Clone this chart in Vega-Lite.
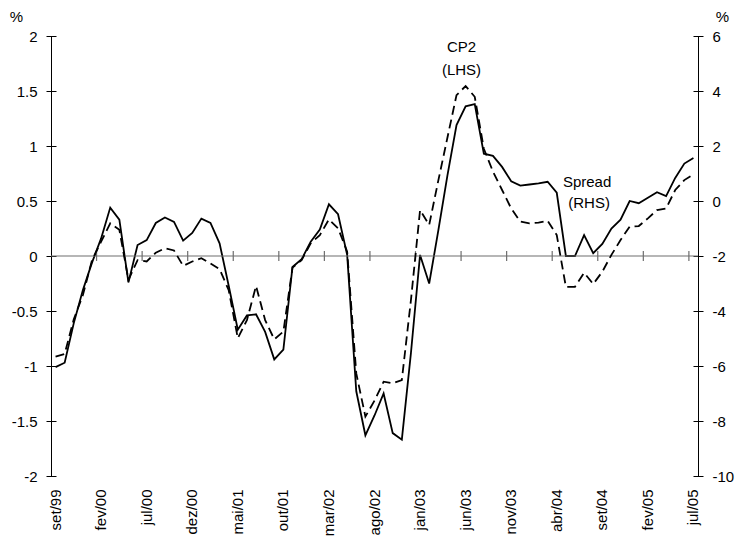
{
  "$schema": "https://vega.github.io/schema/vega-lite/v6.json",
  "width": 647,
  "height": 440,
  "autosize": {"type": "none"},
  "padding": {"left": 51, "top": 36, "right": 39, "bottom": 64},
  "config": {
    "font": "Liberation Sans",
    "view": {"stroke": null},
    "axis": {"labelFont": "Liberation Sans", "titleFont": "Liberation Sans", "labelColor": "#000", "titleColor": "#000", "domainColor": "#000", "tickColor": "#000", "grid": false, "labelFontSize": 15, "titleFontSize": 15, "titleFontWeight": "normal"}
  },
  "data": {"values": [
    {"month": "set/99", "cp2": -1.01, "spread": -5.66},
    {"month": "out/99", "cp2": -0.97, "spread": -5.56},
    {"month": "nov/99", "cp2": -0.61, "spread": -4.3},
    {"month": "dez/99", "cp2": -0.31, "spread": -3.42},
    {"month": "jan/00", "cp2": -0.06, "spread": -2.15},
    {"month": "fev/00", "cp2": 0.16, "spread": -1.48},
    {"month": "mar/00", "cp2": 0.44, "spread": -0.81},
    {"month": "abr/00", "cp2": 0.33, "spread": -1.05},
    {"month": "mai/00", "cp2": -0.24, "spread": -2.87},
    {"month": "jun/00", "cp2": 0.10, "spread": -2.15},
    {"month": "jul/00", "cp2": 0.145, "spread": -2.2},
    {"month": "ago/00", "cp2": 0.30, "spread": -1.88},
    {"month": "set/00", "cp2": 0.35, "spread": -1.72},
    {"month": "out/00", "cp2": 0.31, "spread": -1.8},
    {"month": "nov/00", "cp2": 0.14, "spread": -2.36},
    {"month": "dez/00", "cp2": 0.21, "spread": -2.2},
    {"month": "jan/01", "cp2": 0.34, "spread": -2.08},
    {"month": "fev/01", "cp2": 0.30, "spread": -2.27},
    {"month": "mar/01", "cp2": 0.115, "spread": -2.48},
    {"month": "abr/01", "cp2": -0.27, "spread": -3.24},
    {"month": "mai/01", "cp2": -0.67, "spread": -4.99},
    {"month": "jun/01", "cp2": -0.54, "spread": -4.33},
    {"month": "jul/01", "cp2": -0.53, "spread": -3.09},
    {"month": "ago/01", "cp2": -0.69, "spread": -4.33},
    {"month": "set/01", "cp2": -0.94, "spread": -5.03},
    {"month": "out/01", "cp2": -0.85, "spread": -4.75},
    {"month": "nov/01", "cp2": -0.10, "spread": -2.42},
    {"month": "dez/01", "cp2": -0.03, "spread": -2.15},
    {"month": "jan/02", "cp2": 0.13, "spread": -1.54},
    {"month": "fev/02", "cp2": 0.24, "spread": -1.24},
    {"month": "mar/02", "cp2": 0.47, "spread": -0.67},
    {"month": "abr/02", "cp2": 0.38, "spread": -0.99},
    {"month": "mai/02", "cp2": 0.01, "spread": -1.84},
    {"month": "jun/02", "cp2": -1.23, "spread": -6.27},
    {"month": "jul/02", "cp2": -1.63, "spread": -7.84},
    {"month": "ago/02", "cp2": -1.45, "spread": -7.26},
    {"month": "set/02", "cp2": -1.25, "spread": -6.57},
    {"month": "out/02", "cp2": -1.61, "spread": -6.63},
    {"month": "nov/02", "cp2": -1.67, "spread": -6.51},
    {"month": "dez/02", "cp2": -0.88, "spread": -3.6},
    {"month": "jan/03", "cp2": 0.01, "spread": -0.33},
    {"month": "fev/03", "cp2": -0.25, "spread": -0.87},
    {"month": "mar/03", "cp2": 0.23, "spread": 0.74},
    {"month": "abr/03", "cp2": 0.73, "spread": 2.30},
    {"month": "mai/03", "cp2": 1.19, "spread": 3.85},
    {"month": "jun/03", "cp2": 1.36, "spread": 4.18},
    {"month": "jul/03", "cp2": 1.38, "spread": 3.79},
    {"month": "ago/03", "cp2": 0.93, "spread": 1.9},
    {"month": "set/03", "cp2": 0.91, "spread": 1.07},
    {"month": "out/03", "cp2": 0.81, "spread": 0.40},
    {"month": "nov/03", "cp2": 0.68, "spread": -0.27},
    {"month": "dez/03", "cp2": 0.64, "spread": -0.75},
    {"month": "jan/04", "cp2": 0.65, "spread": -0.81},
    {"month": "fev/04", "cp2": 0.66, "spread": -0.79},
    {"month": "mar/04", "cp2": 0.675, "spread": -0.72},
    {"month": "abr/04", "cp2": 0.575, "spread": -1.24},
    {"month": "mai/04", "cp2": 0.0, "spread": -3.12},
    {"month": "jun/04", "cp2": 0.0, "spread": -3.12},
    {"month": "jul/04", "cp2": 0.19, "spread": -2.61},
    {"month": "ago/04", "cp2": 0.025, "spread": -3.02},
    {"month": "set/04", "cp2": 0.11, "spread": -2.57},
    {"month": "out/04", "cp2": 0.25, "spread": -1.96},
    {"month": "nov/04", "cp2": 0.33, "spread": -1.42},
    {"month": "dez/04", "cp2": 0.50, "spread": -0.93},
    {"month": "jan/05", "cp2": 0.48, "spread": -0.91},
    {"month": "fev/05", "cp2": 0.53, "spread": -0.63},
    {"month": "mar/05", "cp2": 0.58, "spread": -0.33},
    {"month": "abr/05", "cp2": 0.545, "spread": -0.27},
    {"month": "mai/05", "cp2": 0.71, "spread": 0.40},
    {"month": "jun/05", "cp2": 0.84, "spread": 0.76},
    {"month": "jul/05", "cp2": 0.89, "spread": 0.97}
  ]},
  "layer": [
    {
      "layer": [
        {
          "mark": {"type": "line", "color": "#000", "strokeWidth": 1.8},
          "encoding": {
            "x": {"field": "month", "type": "ordinal", "sort": null, "bandPosition": 0.5,
                  "scale": {"type": "band", "paddingInner": 0, "paddingOuter": 0, "domain": ["set/99","out/99","nov/99","dez/99","jan/00","fev/00","mar/00","abr/00","mai/00","jun/00","jul/00","ago/00","set/00","out/00","nov/00","dez/00","jan/01","fev/01","mar/01","abr/01","mai/01","jun/01","jul/01","ago/01","set/01","out/01","nov/01","dez/01","jan/02","fev/02","mar/02","abr/02","mai/02","jun/02","jul/02","ago/02","set/02","out/02","nov/02","dez/02","jan/03","fev/03","mar/03","abr/03","mai/03","jun/03","jul/03","ago/03","set/03","out/03","nov/03","dez/03","jan/04","fev/04","mar/04","abr/04","mai/04","jun/04","jul/04","ago/04","set/04","out/04","nov/04","dez/04","jan/05","fev/05","mar/05","abr/05","mai/05","jun/05","jul/05"]},
                  "axis": {"title": null, "domain": false, "ticks": false, "labelAngle": -90, "labelPadding": 13, "labelOverlap": false, "values": ["set/99", "fev/00", "jul/00", "dez/00", "mai/01", "out/01", "mar/02", "ago/02", "jan/03", "jun/03", "nov/03", "abr/04", "set/04", "fev/05", "jul/05"]}},
            "y": {"field": "cp2", "type": "quantitative", "scale": {"domain": [-2, 2], "nice": false, "zero": false},
                  "axis": {"orient": "left", "values": [-2, -1.5, -1, -0.5, 0, 0.5, 1, 1.5, 2], "labelExpr": "'' + datum.value", "ticks": false, "labelPadding": 14, "title": "%", "titleAngle": 0, "titleX": -35, "titleY": -20, "titleAlign": "center", "titleBaseline": "middle"}}
          }
        },
        {
          "mark": {"type": "rule", "color": "#6e6e6e", "strokeWidth": 1.2},
          "data": {"values": [{}]},
          "encoding": {"y": {"datum": 0, "type": "quantitative",
                  "axis": {"orient": "left", "values": [-2, -1.5, -1, -0.5, 0, 0.5, 1, 1.5, 2], "labels": false, "domain": false, "tickSize": 10, "offset": -5, "title": null}}}
        },
        {
          "mark": {"type": "rule", "color": "#6e6e6e", "strokeWidth": 1.2},
          "transform": [{"filter": {"field": "month", "oneOf": ["fev/00", "jul/00", "dez/00", "mai/01", "out/01", "mar/02", "ago/02", "jan/03", "jun/03", "nov/03", "abr/04", "set/04", "fev/05", "jul/05"]}}],
          "encoding": {
            "x": {"field": "month", "type": "ordinal", "sort": null, "bandPosition": 0},
            "y": {"datum": -0.045, "type": "quantitative", "axis": null},
            "y2": {"datum": 0.045}
          }
        },
        {
          "mark": {"type": "text", "fontSize": 15, "color": "#000", "align": "center", "baseline": "middle", "dx": 5},
          "data": {"values": [{}]},
          "encoding": {"x": {"datum": "mai/03", "type": "ordinal"}, "y": {"datum": 1.9, "type": "quantitative", "axis": null}, "text": {"value": "CP2"}}
        },
        {
          "mark": {"type": "text", "fontSize": 15, "color": "#000", "align": "center", "baseline": "middle", "dx": 5},
          "data": {"values": [{}]},
          "encoding": {"x": {"datum": "mai/03", "type": "ordinal"}, "y": {"datum": 1.69, "type": "quantitative", "axis": null}, "text": {"value": "(LHS)"}}
        },
        {
          "mark": {"type": "text", "fontSize": 15, "color": "#000", "align": "center", "baseline": "middle", "dx": 3},
          "data": {"values": [{}]},
          "encoding": {"x": {"datum": "jul/04", "type": "ordinal"}, "y": {"datum": 0.67, "type": "quantitative", "axis": null}, "text": {"value": "Spread"}}
        },
        {
          "mark": {"type": "text", "fontSize": 15, "color": "#000", "align": "center", "baseline": "middle", "dx": 5},
          "data": {"values": [{}]},
          "encoding": {"x": {"datum": "jul/04", "type": "ordinal"}, "y": {"datum": 0.48, "type": "quantitative", "axis": null}, "text": {"value": "(RHS)"}}
        }
      ],
      "resolve": {"axis": {"y": "independent"}}
    },
    {
      "layer": [
        {
          "mark": {"type": "line", "color": "#000", "strokeWidth": 1.8, "strokeDash": [9, 5]},
          "encoding": {
            "x": {"field": "month", "type": "ordinal", "sort": null, "bandPosition": 0.5},
            "y": {"field": "spread", "type": "quantitative", "scale": {"domain": [-10, 6], "nice": false, "zero": false},
                  "axis": {"orient": "right", "values": [-10, -8, -6, -4, -2, 0, 2, 4, 6], "labelExpr": "'' + datum.value", "ticks": false, "labelPadding": 14, "title": "%", "titleAngle": 0, "titleX": 24, "titleY": -20, "titleAlign": "center", "titleBaseline": "middle"}}
          }
        },
        {
          "mark": {"type": "rule", "opacity": 0},
          "data": {"values": [{}]},
          "encoding": {"y": {"datum": 0, "type": "quantitative",
                  "axis": {"orient": "right", "values": [-10, -8, -6, -4, -2, 0, 2, 4, 6], "labels": false, "domain": false, "tickSize": 10, "offset": -5, "title": null}}}
        }
      ],
      "resolve": {"axis": {"y": "independent"}}
    }
  ],
  "resolve": {"scale": {"y": "independent"}}
}
